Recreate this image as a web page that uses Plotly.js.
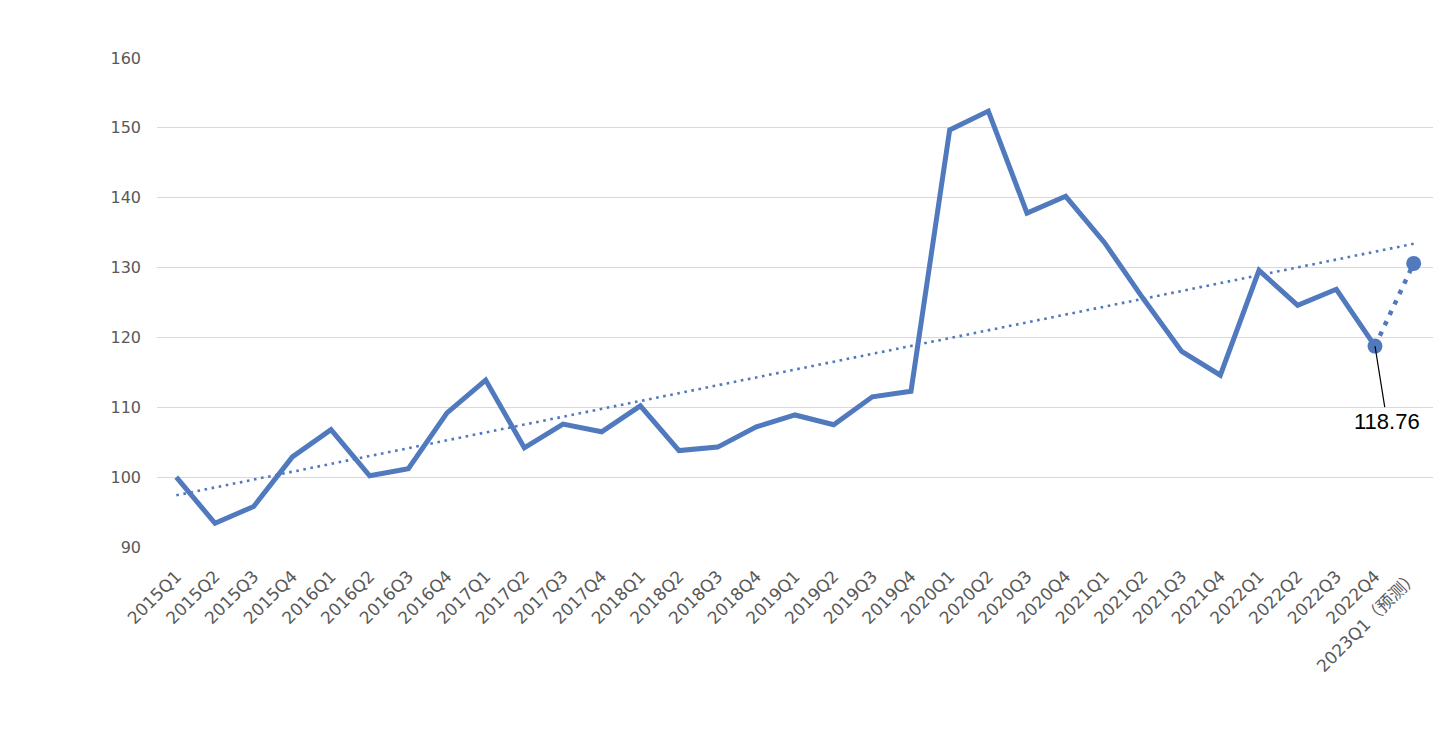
<!DOCTYPE html>
<html>
<head>
<meta charset="utf-8">
<script src="https://cdn.plot.ly/plotly-3.0.1.min.js"></script>
<style>
html,body{margin:0;padding:0;background:#fff;}
#chart{width:1448px;height:746px;}
</style>
</head>
<body>
<div id="chart"></div>
<script>
// ---- data ----
const categories = [
  "2015Q1","2015Q2","2015Q3","2015Q4",
  "2016Q1","2016Q2","2016Q3","2016Q4",
  "2017Q1","2017Q2","2017Q3","2017Q4",
  "2018Q1","2018Q2","2018Q3","2018Q4",
  "2019Q1","2019Q2","2019Q3","2019Q4",
  "2020Q1","2020Q2","2020Q3","2020Q4",
  "2021Q1","2021Q2","2021Q3","2021Q4",
  "2022Q1","2022Q2","2022Q3","2022Q4",
  "2023Q1（预测）"
];
const actualValues = [
  100.0, 93.4, 95.8, 102.9,
  106.8, 100.2, 101.2, 109.2,
  113.9, 104.2, 107.6, 106.5,
  110.2, 103.8, 104.3, 107.2,
  108.9, 107.5, 111.5, 112.3,
  149.7, 152.4, 137.8, 140.2,
  133.6, 125.6, 118.0, 114.6,
  129.6, 124.6, 126.9, 118.76
];
const forecastValue = 130.6;
const trendStart = 97.4;   // trendline value at 2015Q1
const trendEnd = 133.4;    // trendline value at 2023Q1
const labelText = "118.76";
const yTicks = [90, 100, 110, 120, 130, 140, 150, 160];

// ---- build ----
const blue = "#5179BD";
const nActual = actualValues.length;
const lastCat = categories[nActual - 1];
const fcCat = categories[categories.length - 1];
const tickFamily = "DejaVu Sans, Noto Sans CJK SC, sans-serif";
// render the full-width CJK part of a label with the CJK font
const xTickText = categories.map(c =>
  c.replace(/（(.*)）/, '<span style="font-family:Noto Sans CJK SC">（$1）</span>'));

const traces = [
  {
    x: [categories[0], fcCat],
    y: [trendStart, trendEnd],
    mode: "lines",
    line: {color: blue, width: 2.6, dash: "2.6px,4.6px"},
    hoverinfo: "skip",
    showlegend: false
  },
  {
    x: categories.slice(0, nActual),
    y: actualValues,
    mode: "lines",
    line: {color: blue, width: 5},
    showlegend: false
  },
  {
    x: [lastCat, fcCat],
    y: [actualValues[nActual - 1], forecastValue],
    mode: "lines+markers",
    line: {color: blue, width: 4.5, dash: "4.5px,7px"},
    marker: {color: blue, size: 15, symbol: "circle"},
    showlegend: false
  }
];

const layout = {
  width: 1448,
  height: 746,
  paper_bgcolor: "#ffffff",
  plot_bgcolor: "#ffffff",
  margin: {l: 157, r: 15, t: 58, b: 199},
  font: {family: tickFamily, color: "#595959"},
  xaxis: {
    type: "category",
    categoryorder: "array",
    categoryarray: categories,
    tickvals: categories,
    ticktext: xTickText,
    range: [-0.5, categories.length - 0.5],
    tickangle: -45,
    tickfont: {family: tickFamily, size: 17, color: "#595959"},
    showgrid: false,
    showline: false,
    zeroline: false,
    ticks: "",
    ticklabelstandoff: 15
  },
  yaxis: {
    range: [90, 160],
    tickvals: yTicks,
    ticktext: yTicks.map(String),
    tickfont: {family: tickFamily, size: 16, color: "#595959"},
    showgrid: true,
    gridcolor: "#d9d9d9",
    gridwidth: 1,
    zeroline: false,
    showline: false,
    ticks: "",
    ticklabelstandoff: 15
  },
  annotations: [
    {
      x: lastCat,
      y: actualValues[nActual - 1],
      xref: "x",
      yref: "y",
      text: labelText,
      showarrow: true,
      arrowhead: 0,
      arrowwidth: 1.2,
      arrowcolor: "#000000",
      ax: 12,
      ay: 75,
      font: {family: "Liberation Sans, Noto Sans, sans-serif", size: 22, color: "#000000"}
    }
  ]
};

Plotly.newPlot("chart", traces, layout, {displayModeBar: false, staticPlot: true});
</script>
</body>
</html>
